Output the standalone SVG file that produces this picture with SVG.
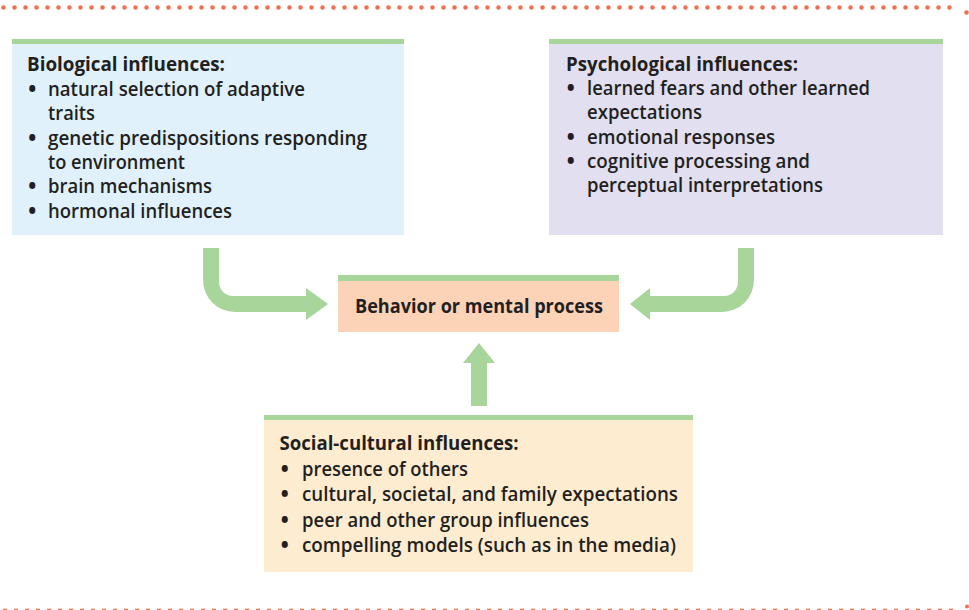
<svg xmlns="http://www.w3.org/2000/svg" width="969" height="610" viewBox="0 0 969 610">
<style>
.t{font-family:"Open Sans","Liberation Sans",sans-serif;font-size:20px;fill:#231f20;}
.b{font-weight:700;}
.r{font-weight:600;font-size:19px;}
.u{font-weight:800;}
.bar{fill:#a8d59a;}
.arrow{fill:#a8d59a;}
</style>
<rect width="969" height="610" fill="#ffffff"/>
<line x1="3.5" y1="7.5" x2="957" y2="7.5" stroke="#f0714f" stroke-width="4.6" stroke-linecap="round" stroke-dasharray="0 11"/>
<circle cx="966.5" cy="12.5" r="2.3" fill="#f0714f"/>
<line x1="3" y1="609.5" x2="960" y2="609.5" stroke="#f0714f" stroke-width="1.6" stroke-dasharray="4 7"/>
<circle cx="967" cy="606.5" r="2" fill="#f0714f"/>

<g id="connectors">
<path class="arrow" d="M203,248 H219 V282 A14,14 0 0 0 233,296 H306 V288 L328,304 L306,320 V312 H235 A32,32 0 0 1 203,280 Z"/>
<path class="arrow" d="M738,248 H754 V280 A32,32 0 0 1 722,312 H650 V320 L630,304 L650,288 V296 H724 A14,14 0 0 0 738,282 Z"/>
<path class="arrow" d="M471,406 V363 H463 L479,343 L495,363 H487 V406 Z"/>
</g>

<g id="biological">
<rect x="12" y="39" width="392" height="196" fill="#e0f1fb"/>
<rect class="bar" x="12" y="39" width="392" height="5"/>
<text class="t b" x="27" y="71" textLength="198" lengthAdjust="spacingAndGlyphs">Biological influences:</text>
<text class="t r" y="95.5"><tspan class="u" x="28.5">•</tspan><tspan x="48" textLength="257" lengthAdjust="spacingAndGlyphs">natural selection of adaptive</tspan></text>
<text class="t r" x="48" y="119.5" textLength="47" lengthAdjust="spacingAndGlyphs">traits</text>
<text class="t r" y="144.5"><tspan class="u" x="28.5">•</tspan><tspan x="48" textLength="319" lengthAdjust="spacingAndGlyphs">genetic predispositions responding</tspan></text>
<text class="t r" x="48" y="168.5" textLength="137" lengthAdjust="spacingAndGlyphs">to environment</text>
<text class="t r" y="193"><tspan class="u" x="28.5">•</tspan><tspan x="48" textLength="164" lengthAdjust="spacingAndGlyphs">brain mechanisms</tspan></text>
<text class="t r" y="218"><tspan class="u" x="28.5">•</tspan><tspan x="48" textLength="184" lengthAdjust="spacingAndGlyphs">hormonal influences</tspan></text>
</g>

<g id="psychological">
<rect x="549" y="39" width="394" height="196" fill="#e1dff0"/>
<rect class="bar" x="549" y="39" width="394" height="5"/>
<text class="t b" x="566" y="70.5" textLength="232" lengthAdjust="spacingAndGlyphs">Psychological influences:</text>
<text class="t r" y="95"><tspan class="u" x="567">•</tspan><tspan x="587" textLength="283" lengthAdjust="spacingAndGlyphs">learned fears and other learned</tspan></text>
<text class="t r" x="587" y="118.5" textLength="115" lengthAdjust="spacingAndGlyphs">expectations</text>
<text class="t r" y="143.5"><tspan class="u" x="567">•</tspan><tspan x="587" textLength="188" lengthAdjust="spacingAndGlyphs">emotional responses</tspan></text>
<text class="t r" y="168"><tspan class="u" x="567">•</tspan><tspan x="587" textLength="223" lengthAdjust="spacingAndGlyphs">cognitive processing and</tspan></text>
<text class="t r" x="587" y="192" textLength="236" lengthAdjust="spacingAndGlyphs">perceptual interpretations</text>
</g>

<g id="behavior">
<rect x="338" y="275" width="281" height="57" fill="#fdd3b8"/>
<rect class="bar" x="338" y="275" width="281" height="6"/>
<text class="t b" x="355" y="313" textLength="248" lengthAdjust="spacingAndGlyphs">Behavior or mental process</text>
</g>

<g id="social">
<rect x="264" y="415" width="429" height="157" fill="#fdecd0"/>
<rect class="bar" x="264" y="415" width="429" height="5"/>
<text class="t b" x="279.5" y="450" textLength="239" lengthAdjust="spacingAndGlyphs">Social-cultural influences:</text>
<text class="t r" y="475.5"><tspan class="u" x="281">•</tspan><tspan x="302" textLength="166" lengthAdjust="spacingAndGlyphs">presence of others</tspan></text>
<text class="t r" y="501"><tspan class="u" x="281">•</tspan><tspan x="302" textLength="376" lengthAdjust="spacingAndGlyphs">cultural, societal, and family expectations</tspan></text>
<text class="t r" y="526.5"><tspan class="u" x="281">•</tspan><tspan x="302" textLength="287" lengthAdjust="spacingAndGlyphs">peer and other group influences</tspan></text>
<text class="t r" y="552"><tspan class="u" x="281">•</tspan><tspan x="302" textLength="374" lengthAdjust="spacingAndGlyphs">compelling models (such as in the media)</tspan></text>
</g>
</svg>
